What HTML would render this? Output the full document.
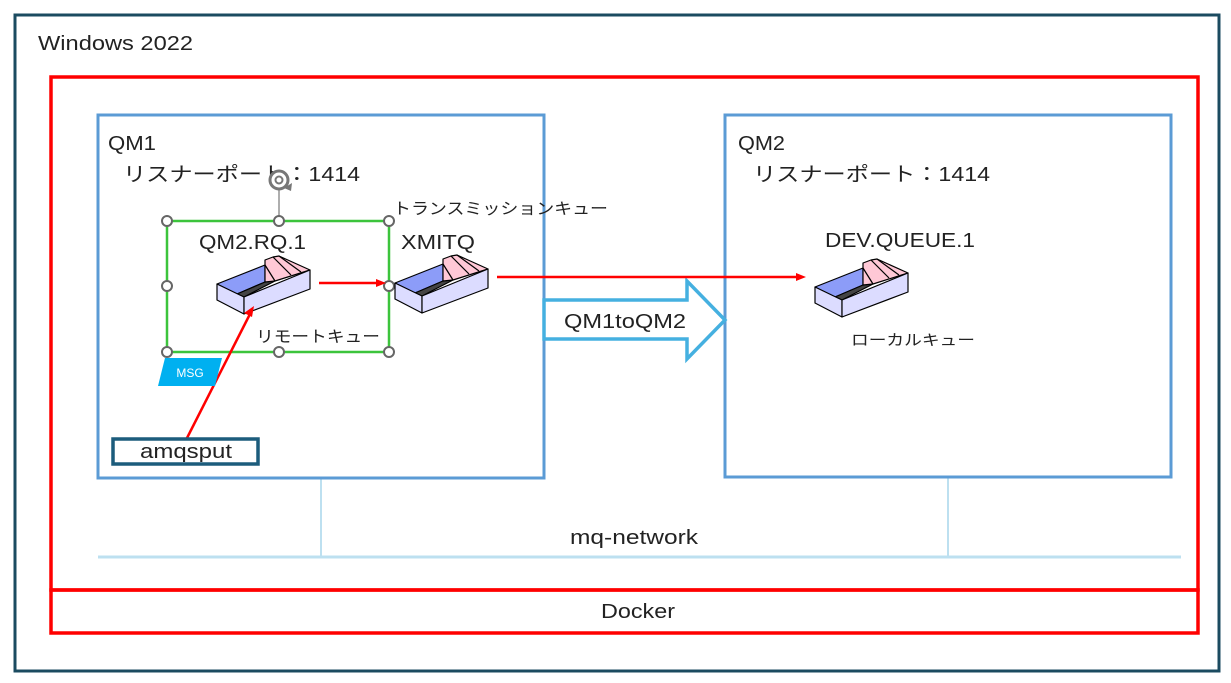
<!DOCTYPE html>
<html><head><meta charset="utf-8"><style>
html,body{margin:0;padding:0;background:#fff;}
svg{display:block;}
text{font-family:"Liberation Sans","Noto Sans CJK JP",sans-serif;fill:#222;}
</style></head><body>
<svg width="1231" height="683" viewBox="0 0 1231 683" xmlns="http://www.w3.org/2000/svg">
<defs>
<g id="q" stroke="#000" stroke-width="1.2" stroke-linejoin="round">
<polygon points="0,0 48,-19 48,-2 20,10" fill="#8C9CF8"/>
<polygon points="20,10 48,-2 58,-3 27,13" fill="#444"/>
<polygon points="48,-19 48,-24 56,-27 62,-28 93,-14 58,-3 48,-2" fill="#FFC8D6"/>
<line x1="48" y1="-19" x2="58" y2="-3"/>
<line x1="56" y1="-27" x2="74" y2="-9"/>
<line x1="62" y1="-28" x2="84" y2="-12"/>
<polygon points="0,0 27,13 27,30 0,16" fill="#DCDCFF"/>
<polygon points="27,13 93,-14 93,5 27,30" fill="#DCDCFF"/>
</g>
</defs>
<rect x="15" y="15" width="1204" height="656" fill="#fff" stroke="#1B4B60" stroke-width="3"/>
<text x="38" y="50" font-size="20" textLength="155" lengthAdjust="spacingAndGlyphs">Windows 2022</text>
<rect x="51" y="77" width="1147" height="513" fill="none" stroke="#FF0000" stroke-width="3.5"/>
<rect x="51" y="590" width="1147" height="43" fill="none" stroke="#FF0000" stroke-width="3.5"/>
<text x="601" y="618" font-size="20" textLength="74" lengthAdjust="spacingAndGlyphs">Docker</text>
<line x1="98" y1="557" x2="1181" y2="557" stroke="#BDE0F0" stroke-width="3"/>
<line x1="321" y1="478" x2="321" y2="557" stroke="#BDE0F0" stroke-width="2"/>
<line x1="948" y1="478" x2="948" y2="557" stroke="#BDE0F0" stroke-width="2"/>
<text x="570" y="544" font-size="20" textLength="128" lengthAdjust="spacingAndGlyphs">mq-network</text>
<rect x="98" y="115" width="446" height="363" fill="none" stroke="#5B9BD5" stroke-width="3"/>
<rect x="725" y="115" width="446" height="362" fill="none" stroke="#5B9BD5" stroke-width="3"/>
<text x="108" y="150" font-size="20" textLength="48" lengthAdjust="spacingAndGlyphs">QM1</text>
<text x="123" y="181" font-size="20" textLength="237" lengthAdjust="spacingAndGlyphs">リスナーポート：1414</text>
<text x="738" y="150" font-size="20" textLength="47" lengthAdjust="spacingAndGlyphs">QM2</text>
<text x="753" y="181" font-size="20" textLength="237" lengthAdjust="spacingAndGlyphs">リスナーポート：1414</text>
<polygon points="544,300 687,300 687,281 725,320 687,359 687,339 544,339" fill="#fff" stroke="#45B0E0" stroke-width="3.5"/>
<text x="564" y="328" font-size="20" textLength="122" lengthAdjust="spacingAndGlyphs">QM1toQM2</text>
<rect x="167" y="221" width="222" height="131" fill="none" stroke="#3CC43C" stroke-width="2.5"/>
<line x1="279" y1="190" x2="279" y2="221" stroke="#777" stroke-width="1.2"/>
<circle cx="279" cy="180" r="9" fill="#fff" stroke="#777" stroke-width="3"/>
<circle cx="279" cy="180" r="3.5" fill="none" stroke="#777" stroke-width="2"/>
<path d="M284 188 l8 -5 l-1 8 z" fill="#777"/>
<g fill="#fff" stroke="#666" stroke-width="2">
<circle cx="167" cy="221" r="5"/><circle cx="279" cy="221" r="5"/><circle cx="389" cy="221" r="5"/>
<circle cx="167" cy="286" r="5"/><circle cx="389" cy="286" r="5"/>
<circle cx="167" cy="352" r="5"/><circle cx="279" cy="352" r="5"/><circle cx="389" cy="352" r="5"/>
</g>
<text x="199" y="249" font-size="20" textLength="107" lengthAdjust="spacingAndGlyphs">QM2.RQ.1</text>
<text x="401" y="249" font-size="20" textLength="74" lengthAdjust="spacingAndGlyphs">XMITQ</text>
<text x="393" y="214" font-size="16" textLength="215" lengthAdjust="spacingAndGlyphs">トランスミッションキュー</text>
<text x="256" y="342" font-size="16" textLength="124" lengthAdjust="spacingAndGlyphs">リモートキュー</text>
<text x="825" y="247" font-size="20" textLength="150" lengthAdjust="spacingAndGlyphs">DEV.QUEUE.1</text>
<text x="851" y="345" font-size="15" textLength="124" lengthAdjust="spacingAndGlyphs">ローカルキュー</text>
<use href="#q" x="217" y="284"/>
<use href="#q" x="395" y="283"/>
<use href="#q" x="815" y="287"/>
<g stroke="#FF0000" stroke-width="2.5" fill="#FF0000">
<line x1="319" y1="283" x2="378" y2="283"/><polygon points="386,283 376,279 376,287" stroke="none"/>
<line x1="497" y1="277" x2="798" y2="277"/><polygon points="806,277 796,273 796,281" stroke="none"/>
<line x1="187" y1="438" x2="250" y2="314"/><polygon points="254,306 244,313 252,317" stroke="none"/>
</g>
<polygon points="165,358 222,358 215,386 158,386" fill="#00B0F0"/>
<text x="190" y="377" font-size="12" style="fill:#fff" text-anchor="middle">MSG</text>
<rect x="113" y="439" width="145" height="25" fill="#fff" stroke="#1C5C7C" stroke-width="3.5"/>
<text x="140" y="458" font-size="20" textLength="92" lengthAdjust="spacingAndGlyphs">amqsput</text>
</svg>
</body></html>
